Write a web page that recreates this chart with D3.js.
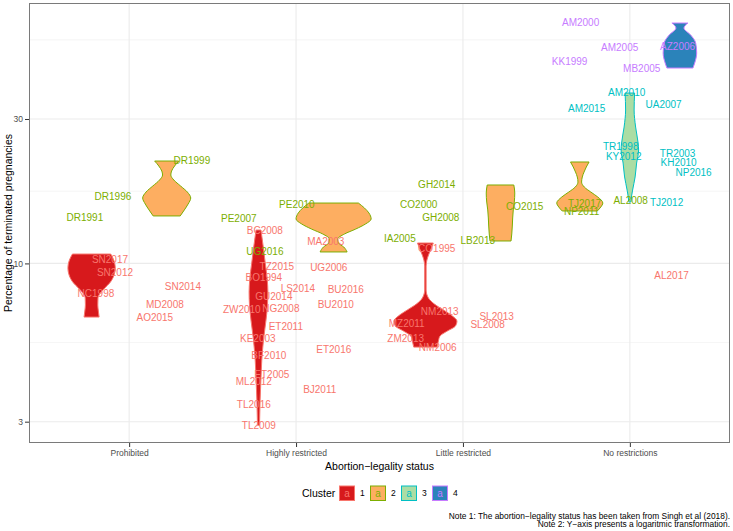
<!DOCTYPE html>
<html><head><meta charset="utf-8">
<script src="https://cdn.jsdelivr.net/npm/d3@7"></script>
<style>
body{margin:0;background:#fff}
text{font-family:"Liberation Sans",Arial,Helvetica,sans-serif}
</style></head>
<body><svg id="chart" width="733" height="531"></svg>
<script>
// ---------- data ----------
const categories = ["Prohibited","Highly restricted","Little restricted","No restrictions"];
const clusters = [1,2,3,4];
const yTicks = [3,10,30];
const yMinorTicks = [5.477,17.32,54.77];
const notes = ["Note 1: The abortion\u2212legality status has been taken from Singh et al (2018).",
               "Note 2: Y\u2212axis presents a logaritmic transformation."];

// labelled surveys per abortion-legality status
const namesProhibited = ["DR1999","DR1996","DR1991","SN2017","SN2012","NC1998","SN2014","MD2008","AO2015"];
const clustersProhibited = [2,2,2,1,1,1,1,1,1];
const valuesProhibited = [21.8,16.7,14.2,10.34,9.3,7.98,8.36,7.29,6.65];
const jitterProhibited = [0.376,-0.097,-0.265,-0.115,-0.085,-0.199,0.322,0.214,0.154];

const namesHighly = ["PE2010","PE2007","UG2016","BC2008","MA2003","TZ2015","UG2006","BO1994","LS2014","BU2016","GU2014","BU2010","NG2008","ZW2010","ET2011","KE2003","ET2016","BF2010","ET2005","ML2012","BJ2011","TL2016","TL2009"];
const clustersHighly = [2,2,2,1,1,1,1,1,1,1,1,1,1,1,1,1,1,1,1,1,1,1,1];
const valuesHighly = [15.71,14.02,10.91,12.89,11.77,9.80,9.66,8.95,8.29,8.17,7.80,7.29,7.12,7.02,6.21,5.63,5.21,4.98,4.31,4.06,3.82,3.43,2.92];
const jitterHighly = [0.005,-0.343,-0.187,-0.187,0.178,-0.115,0.196,-0.193,0.011,0.298,-0.133,0.238,-0.091,-0.325,-0.061,-0.229,0.226,-0.163,-0.145,-0.253,0.142,-0.253,-0.223];

const namesLittle = ["GH2014","CO2000","GH2008","CO2015","IA2005","LB2013","CO1995","NM2013","SL2013","MZ2011","SL2008","ZM2013","NM2006"];
const clustersLittle = [2,2,2,2,2,2,1,1,1,1,1,1,1];
const valuesLittle = [18.16,15.71,14.23,15.36,12.13,11.86,11.24,6.96,6.70,6.31,6.26,5.63,5.29];
const jitterLittle = [-0.157,-0.265,-0.133,0.370,-0.378,0.089,-0.157,-0.139,0.202,-0.337,0.148,-0.343,-0.151];

const namesNone = ["AM2000","AM2005","AZ2006","KK1999","MB2005","AM2010","UA2007","AM2015","TR1998","TR2003","KY2012","KH2010","NP2016","TJ2012","AL2008","TJ2017","NP2011","AL2017"];
const clustersNone = [4,4,4,4,4,3,3,3,3,3,3,3,3,3,2,2,2,1];
const valuesNone = [62.3,51.5,51.9,46.6,43.9,36.6,33.6,32.4,24.4,23.0,22.5,21.5,19.9,15.95,16.08,15.83,14.79,9.09];
const jitterNone = [-0.295,-0.061,0.286,-0.361,0.071,-0.019,0.202,-0.259,-0.055,0.286,-0.037,0.292,0.382,0.220,0.005,-0.271,-0.289,0.250];

// violin densities: [percentage, scaled density (violinwidth)]
const densityProhibited1 = [[10.74,0.51],[10.26,0.59],[9.66,0.63],[9.09,0.59],[8.61,0.48],[8.29,0.35],[7.98,0.23],[7.69,0.17],[7.29,0.165],[6.96,0.18],[6.65,0.20]];
const densityProhibited2 = [[21.79,0.32],[20.98,0.21],[20.19,0.13],[19.59,0.11],[18.86,0.19],[18.02,0.37],[17.21,0.55],[16.45,0.64],[15.71,0.57],[15.02,0.47],[14.35,0.36]];
const densityHighly1 = [[12.89,0.066],[11.50,0.12],[10.03,0.18],[8.81,0.234],[8.05,0.25],[7.29,0.24],[6.50,0.20],[5.58,0.133],[4.80,0.088],[4.12,0.064],[3.54,0.043],[2.92,0.027]];
const densityHighly2 = [[15.83,0.66],[15.25,0.82],[14.68,0.94],[14.02,1.0],[13.50,0.85],[12.99,0.59],[12.51,0.29],[12.04,0.11],[11.68,0.13],[11.33,0.27],[10.91,0.36]];
const densityLittle1 = [[11.68,0.21],[11.24,0.16],[10.74,0.093],[10.26,0.04],[9.80,0.019],[8.17,0.019],[7.69,0.08],[7.34,0.24],[7.02,0.48],[6.70,0.72],[6.45,0.84],[6.21,0.80],[5.98,0.585],[5.75,0.386],[5.54,0.346],[5.29,0.311]];
const densityLittle2 = [[18.16,0.354],[17.08,0.38],[15.95,0.367],[15.02,0.34],[14.13,0.324],[13.29,0.314],[12.51,0.30],[11.86,0.28]];
const densityNone2 = [[21.63,0.37],[20.82,0.26],[20.04,0.17],[19.30,0.10],[18.57,0.072],[17.88,0.18],[17.21,0.44],[16.57,0.72],[15.83,0.92],[15.36,0.84],[14.90,0.70]];
const densityNone3 = [[36.55,0.19],[32.12,0.17],[28.22,0.23],[24.99,0.33],[23.69,0.35],[21.46,0.27],[19.30,0.21],[17.47,0.11],[16.20,0.048],[15.95,0.04]];
const densityNone4 = [[62.26,0.32],[59.95,0.16],[56.82,0.43],[53.47,0.63],[49.55,0.67],[45.92,0.59],[44.21,0.52]];

const fillColors = ["#D7191C","#FDAE61","#ABDDA4","#2B83BA"];
const lineColors = ["#F8766D","#7CAE00","#00BFC4","#C77CFF"];

// ---------- assemble ----------
const labelSets = [
  [namesProhibited,clustersProhibited,valuesProhibited,jitterProhibited],
  [namesHighly,clustersHighly,valuesHighly,jitterHighly],
  [namesLittle,clustersLittle,valuesLittle,jitterLittle],
  [namesNone,clustersNone,valuesNone,jitterNone]
];
const labels = [];
labelSets.forEach((s,ci)=>s[0].forEach((n,i)=>labels.push({name:n,cluster:s[1][i],value:s[2][i],jitter:s[3][i],category:categories[ci]})));

const violins = [
  {category:categories[0],cluster:1,density:densityProhibited1},
  {category:categories[0],cluster:2,density:densityProhibited2},
  {category:categories[1],cluster:1,density:densityHighly1},
  {category:categories[1],cluster:2,density:densityHighly2},
  {category:categories[2],cluster:1,density:densityLittle1},
  {category:categories[2],cluster:2,density:densityLittle2},
  {category:categories[3],cluster:2,density:densityNone2},
  {category:categories[3],cluster:3,density:densityNone3},
  {category:categories[3],cluster:4,density:densityNone4}
];

// ---------- layout ----------
const panel = {left:29, right:730, top:3, bottom:443};
const svg = d3.select("#chart");
const x = d3.scalePoint().domain(categories).range([panel.left,panel.right]).padding(0.6);
const step = x.step();
const y = d3.scaleLog().domain([2.551,72.5]).range([panel.bottom,panel.top]);

// dodge (width 0.9 shared by the groups present at each x)
categories.forEach(c=>{
  const vs = violins.filter(v=>v.category===c).sort((a,b)=>a.cluster-b.cluster);
  const n = vs.length;
  vs.forEach((v,i)=>{ v.cx = x(c) + 0.9*step*((i+0.5)/n-0.5); v.half = 0.9*step/n/2; });
});

// panel background grid
const grid = svg.append("g");
grid.selectAll("line.minor").data(yMinorTicks).join("line")
  .attr("x1",panel.left).attr("x2",panel.right)
  .attr("y1",d=>y(d)).attr("y2",d=>y(d))
  .attr("stroke","#EFEFEF").attr("stroke-width",0.6);
grid.selectAll("line.majy").data(yTicks).join("line")
  .attr("x1",panel.left).attr("x2",panel.right)
  .attr("y1",d=>y(d)).attr("y2",d=>y(d))
  .attr("stroke","#EBEBEB").attr("stroke-width",1.1);
grid.selectAll("line.majx").data(categories).join("line")
  .attr("x1",d=>x(d)).attr("x2",d=>x(d))
  .attr("y1",panel.top).attr("y2",panel.bottom)
  .attr("stroke","#EBEBEB").attr("stroke-width",1.1);

// violins
const vg = svg.append("g");
violins.forEach(v=>{
  const area = d3.area().curve(d3.curveMonotoneY)
    .y(d=>y(d[0]))
    .x0(d=>v.cx - d[1]*v.half)
    .x1(d=>v.cx + d[1]*v.half);
  vg.append("path").datum(v.density)
    .attr("d",area)
    .attr("fill",fillColors[v.cluster-1])
    .attr("stroke",lineColors[v.cluster-1])
    .attr("stroke-width",1);
});

// labels
svg.append("g").selectAll("text").data(labels).join("text")
  .attr("x",d=>x(d.category)+d.jitter*step)
  .attr("y",d=>y(d.value))
  .attr("dy","0.35em")
  .attr("text-anchor","middle")
  .attr("fill",d=>lineColors[d.cluster-1])
  .style("font-size","10px")
  .text(d=>d.name);

// panel border
svg.append("rect").attr("x",panel.left+0.5).attr("y",panel.top+0.5)
  .attr("width",panel.right-panel.left-1).attr("height",panel.bottom-panel.top-1)
  .attr("fill","none").attr("stroke","#7a7a7a").attr("stroke-width",1);

// axes
const ax = svg.append("g").attr("transform",`translate(0,${panel.bottom})`)
  .call(d3.axisBottom(x).tickSize(4).tickPadding(3));
const ay = svg.append("g").attr("transform",`translate(${panel.left},0)`)
  .call(d3.axisLeft(y).tickValues(yTicks).tickFormat(d3.format("d")).tickSize(4).tickPadding(2));
[ax,ay].forEach(a=>{
  a.select(".domain").remove();
  a.selectAll(".tick line").attr("stroke","#333");
  a.selectAll(".tick text").attr("fill","#4D4D4D").style("font-size","8.5px")
    .style("font-family",'"Liberation Sans",Arial,sans-serif');
});

// axis titles
svg.append("text").attr("x",(panel.left+panel.right)/2).attr("y",466).attr("dy","0.35em")
  .attr("text-anchor","middle").style("font-size","10.5px").text("Abortion\u2212legality status");
svg.append("text").attr("transform",`translate(8,${(panel.top+panel.bottom)/2}) rotate(-90)`)
  .attr("dy","0.35em").attr("text-anchor","middle").style("font-size","10.5px")
  .text("Percentage of terminated pregnancies");

// legend
const lg = svg.append("g");
lg.append("text").attr("x",302).attr("y",493).attr("dy","0.35em").style("font-size","10.5px").text("Cluster");
const keyX = [339,370,401,432];
clusters.forEach((c,i)=>{
  lg.append("rect").attr("x",keyX[i]+0.5).attr("y",486).attr("width",15).attr("height",14.5)
    .attr("fill",fillColors[i]).attr("stroke",lineColors[i]).attr("stroke-width",1);
  lg.append("text").attr("x",keyX[i]+8).attr("y",493).attr("dy","0.35em").attr("text-anchor","middle")
    .attr("fill",lineColors[i]).style("font-size","10px").text("a");
  lg.append("text").attr("x",keyX[i]+21).attr("y",493).attr("dy","0.35em")
    .style("font-size","8.5px").attr("fill","#000").text(String(c));
});

// notes
svg.append("g").selectAll("text").data(notes).join("text")
  .attr("x",730).attr("y",(d,i)=>516+i*8.5).attr("dy","0.35em")
  .attr("text-anchor","end").style("font-size","8.4px").text(d=>d);
</script>
</body></html>
